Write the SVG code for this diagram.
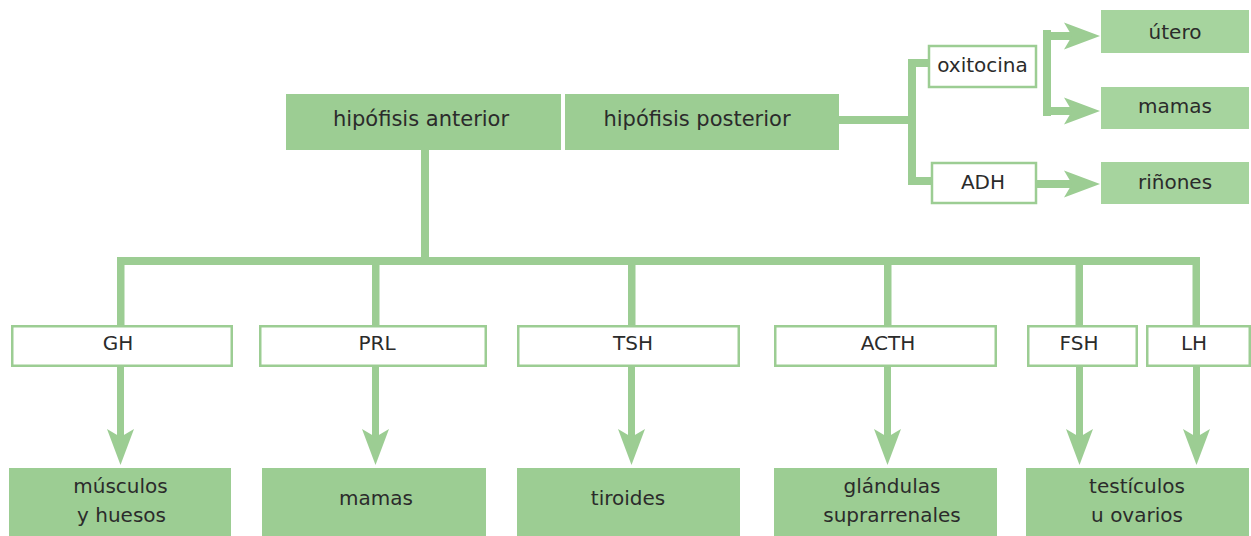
<svg xmlns="http://www.w3.org/2000/svg" xmlns:xlink="http://www.w3.org/1999/xlink" width="1251" height="536" viewBox="0 0 1251 536">
<style>
.fill{fill:#9ccd93}
.fill2{fill:#a6d49e}
.wbox{fill:#fff;stroke:#9ccd93;stroke-width:2.5}
.ln{fill:#9ccd93}
.t{font-family:"DejaVu Sans",sans-serif;font-size:20px;fill:#2b2b2b;text-anchor:middle}
.tb{font-size:21px}
</style>
<defs>
<path id="ah" d="M0,0 L-36,-13.5 L-28,0 L-36,13.5 Z" fill="#9ccd93"/>
</defs>
<rect width="1251" height="536" fill="#fff"/>

<g id="connectors">
  <rect class="ln" x="421" y="150" width="8" height="112"/>
  <rect class="ln" x="117" y="257" width="1083" height="8"/>
  <rect class="ln" x="117" y="257" width="7.5" height="69"/>
  <rect class="ln" x="372" y="257" width="7.5" height="69"/>
  <rect class="ln" x="628" y="257" width="7.5" height="69"/>
  <rect class="ln" x="884" y="257" width="7.5" height="69"/>
  <rect class="ln" x="1075.5" y="257" width="7.5" height="69"/>
  <rect class="ln" x="1192.5" y="257" width="7.5" height="69"/>
  <rect class="ln" x="117" y="366" width="7" height="72"/>
  <use xlink:href="#ah" transform="translate(120.5,465) rotate(90)"/>
  <rect class="ln" x="372" y="366" width="7" height="72"/>
  <use xlink:href="#ah" transform="translate(375.5,465) rotate(90)"/>
  <rect class="ln" x="628" y="366" width="7" height="72"/>
  <use xlink:href="#ah" transform="translate(631.5,465) rotate(90)"/>
  <rect class="ln" x="884" y="366" width="7" height="72"/>
  <use xlink:href="#ah" transform="translate(887.5,465) rotate(90)"/>
  <rect class="ln" x="1076" y="366" width="7" height="72"/>
  <use xlink:href="#ah" transform="translate(1079.5,465) rotate(90)"/>
  <rect class="ln" x="1193" y="366" width="7" height="72"/>
  <use xlink:href="#ah" transform="translate(1196.5,465) rotate(90)"/>
  <rect class="ln" x="838" y="116" width="78" height="8"/>
  <rect class="ln" x="908" y="59" width="8" height="126"/>
  <rect class="ln" x="908" y="59" width="21" height="8"/>
  <rect class="ln" x="908" y="177" width="23" height="8"/>
  <rect class="ln" x="1043" y="30" width="8" height="86"/>
  <rect class="ln" x="1043" y="32" width="30" height="8"/>
  <use xlink:href="#ah" transform="translate(1100,36)"/>
  <rect class="ln" x="1043" y="107" width="30" height="8"/>
  <use xlink:href="#ah" transform="translate(1100,111)"/>
  <rect class="ln" x="1037" y="180" width="36" height="8"/>
  <use xlink:href="#ah" transform="translate(1100,184)"/>
</g>

<g id="hipofisis-anterior">
  <rect class="fill" x="286" y="94" width="275" height="56"/>
  <text class="t tb" x="421" y="126">hipófisis anterior</text>
</g>
<g id="hipofisis-posterior">
  <rect class="fill" x="565" y="94" width="274" height="56"/>
  <text class="t tb" x="697" y="126">hipófisis posterior</text>
</g>

<g id="oxitocina">
  <rect class="wbox" x="929" y="46" width="107" height="41"/>
  <text class="t" x="982.5" y="72">oxitocina</text>
</g>
<g id="adh">
  <rect class="wbox" x="932" y="163" width="104" height="40"/>
  <text class="t" x="983" y="189">ADH</text>
</g>
<g id="utero">
  <rect class="fill2" x="1101" y="10" width="148" height="43"/>
  <text class="t" x="1175" y="39">útero</text>
</g>
<g id="mamas-post">
  <rect class="fill2" x="1101" y="87" width="148" height="42"/>
  <text class="t" x="1175" y="113">mamas</text>
</g>
<g id="rinones">
  <rect class="fill2" x="1101" y="162" width="148" height="42"/>
  <text class="t" x="1175" y="189">riñones</text>
</g>

<g id="gh">
  <rect class="wbox" x="12.25" y="326.25" width="219.5" height="39.5"/>
  <text class="t" x="118" y="350">GH</text>
</g>
<g id="prl">
  <rect class="wbox" x="260.25" y="326.25" width="225.5" height="39.5"/>
  <text class="t" x="377" y="350">PRL</text>
</g>
<g id="tsh">
  <rect class="wbox" x="518.25" y="326.25" width="220.5" height="39.5"/>
  <text class="t" x="633" y="350">TSH</text>
</g>
<g id="acth">
  <rect class="wbox" x="775.25" y="326.25" width="220.5" height="39.5"/>
  <text class="t" x="888" y="350">ACTH</text>
</g>
<g id="fsh">
  <rect class="wbox" x="1028.25" y="326.25" width="108.5" height="39.5"/>
  <text class="t" x="1079" y="350">FSH</text>
</g>
<g id="lh">
  <rect class="wbox" x="1147.25" y="326.25" width="102.5" height="39.5"/>
  <text class="t" x="1194" y="350">LH</text>
</g>

<g id="musculos">
  <rect class="fill" x="9" y="468" width="222" height="68"/>
  <text class="t" x="120.5" y="493">músculos</text>
  <text class="t" x="121.5" y="522">y huesos</text>
</g>
<g id="mamas">
  <rect class="fill" x="262" y="468" width="224" height="68"/>
  <text class="t" x="376" y="505">mamas</text>
</g>
<g id="tiroides">
  <rect class="fill" x="517" y="468" width="223" height="68"/>
  <text class="t" x="628" y="505">tiroides</text>
</g>
<g id="glandulas">
  <rect class="fill" x="774" y="468" width="223" height="68"/>
  <text class="t" x="892" y="493">glándulas</text>
  <text class="t" x="892" y="522">suprarrenales</text>
</g>
<g id="testiculos">
  <rect class="fill" x="1026" y="468" width="223" height="68"/>
  <text class="t" x="1137" y="493">testículos</text>
  <text class="t" x="1137" y="522">u ovarios</text>
</g>
</svg>
